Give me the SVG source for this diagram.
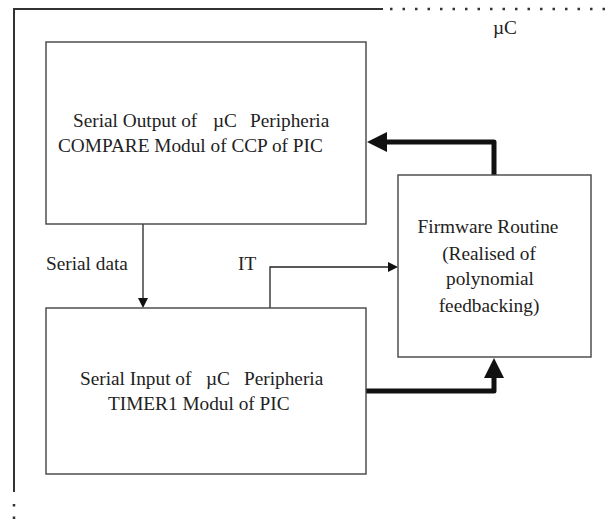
<svg xmlns="http://www.w3.org/2000/svg" width="605" height="523" viewBox="0 0 605 523">
<style>
text{font-family:"Liberation Serif","Times New Roman",serif;font-size:19.3px;fill:#222}
.box{fill:none;stroke:#444;stroke-width:1.4}
.thin{fill:none;stroke:#222;stroke-width:1.3}
.thick{fill:none;stroke:#111;stroke-width:5;stroke-linejoin:round}
.frame{fill:none;stroke:#333;stroke-width:2}
.dot{fill:none;stroke:#333;stroke-width:2.5;stroke-dasharray:2.5 10}
</style>
<defs>
<marker id="ah" markerWidth="10" markerHeight="10" refX="0" refY="5" orient="auto" markerUnits="userSpaceOnUse"><path d="M0,0 L10,5 L0,10 Z" fill="#111"/></marker>
<marker id="ahb" markerWidth="20" markerHeight="20" refX="0" refY="10" orient="auto" markerUnits="userSpaceOnUse"><path d="M0,0 L20,10 L0,20 Z" fill="#111"/></marker>
</defs>
<g id="frame">
<path class="frame" d="M14,492 L14,9 L383,9"/>
<path class="dot" d="M390,9 L605,9"/>
<path class="dot" d="M14,504 L14,523"/>
<text x="493" y="34">µC</text>
</g>
<g id="connectors">
<path class="thin" d="M143,224 L143,298" marker-end="url(#ah)"/>
<path class="thin" d="M270,308 L270,267 L388,267" marker-end="url(#ah)"/>
<path class="thick" d="M494,175 L494,142 L387,142" marker-end="url(#ahb)"/>
<path class="thick" d="M366,391 L494,391 L494,378" marker-end="url(#ahb)"/>
<text x="46" y="270">Serial data</text>
<text x="238" y="270">IT</text>
</g>
<g id="node-output">
<rect class="box" x="46" y="42" width="320" height="182"/>
<text x="73" y="127">Serial Output of <tspan x="213">µC </tspan><tspan x="250">Peripheria</tspan></text>
<text x="58" y="152">COMPARE Modul of CCP of PIC</text>
</g>
<g id="node-input">
<rect class="box" x="46" y="308" width="320" height="166"/>
<text x="80" y="385">Serial Input of <tspan x="206">µC </tspan><tspan x="244">Peripheria</tspan></text>
<text x="108" y="410">TIMER1 Modul of PIC</text>
</g>
<g id="node-firmware">
<rect class="box" x="398" y="175" width="193" height="182"/>
<g text-anchor="middle">
<text x="488" y="233">Firmware Routine</text>
<text x="489" y="260">(Realised of</text>
<text x="490" y="285">polynomial</text>
<text x="489" y="312">feedbacking)</text>
</g>
</g>
</svg>
